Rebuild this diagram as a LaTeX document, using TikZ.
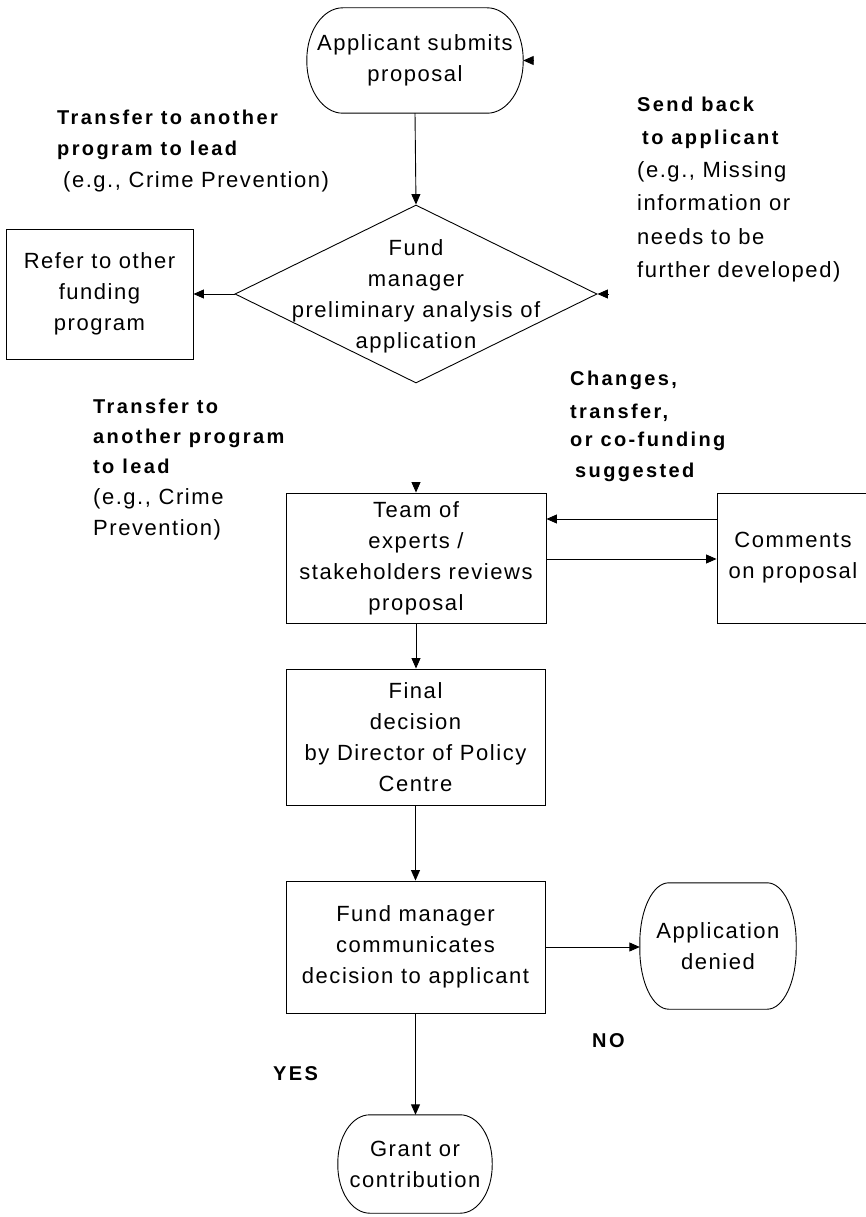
\documentclass[tikz,border=0pt]{standalone}
\usepackage{fontspec}
\setmainfont{Liberation Sans}[LetterSpace=7]
\newfontfamily\lblfont{Liberation Sans}[LetterSpace=12]
\usetikzlibrary{shapes.geometric,arrows.meta,calc}
\newcommand\bodyfs{\fontsize{22}{31}\selectfont}
\newcommand\lblfs{\lblfont\bfseries\fontsize{20}{30}\selectfont}
\newcommand\softshape[3]{%
  \draw[line width=0.9pt] ($(#1.north west)+(#2,0)$) -- ($(#1.north east)+(-#2,0)$)
   .. controls +(0.552*#2,0) and +(0,-0.552*#3) .. ($(#1.north east)+(0,#3)$)
   -- ($(#1.south east)+(0,-#3)$)
   .. controls +(0,0.552*#3) and +(0.552*#2,0) .. ($(#1.south east)+(-#2,0)$)
   -- ($(#1.south west)+(#2,0)$)
   .. controls +(-0.552*#2,0) and +(0,0.552*#3) .. ($(#1.south west)+(0,-#3)$)
   -- ($(#1.north west)+(0,#3)$)
   .. controls +(0,-0.552*#3) and +(-0.552*#2,0) .. ($(#1.north west)+(#2,0)$) -- cycle;}
\begin{document}
\begin{tikzpicture}[x=1pt,y=-1pt,
  box/.style={draw, line width=0.9pt, align=center, inner sep=0pt, font=\bodyfs},
  soft/.style={align=center, inner sep=0pt, font=\bodyfs},
  arr/.style={-{Triangle[length=10.5pt,width=9pt]}, line width=0.9pt},
  lblb/.style={anchor=base west, inner sep=0pt, font=\lblfs},
  lblr/.style={anchor=base west, inner sep=0pt, font=\bodyfs}]
\useasboundingbox (0,0) rectangle (866,1217);

% nodes
\node[soft, minimum width=216pt, minimum height=105pt] (app) at (415,60.5) {Applicant submits\\proposal};
\softshape{app}{36}{52}
\node[diamond, draw, line width=0.9pt, minimum width=362pt, minimum height=178pt, inner sep=0pt] (dia) at (416,294) {};
\node[soft] (diatext) at (416,296) {Fund\\manager\\preliminary analysis of\\application};
\node[box, minimum width=187pt, minimum height=130pt] (ref) at (99.5,294) {Refer to other\\funding\\program};
\node[box, minimum width=260pt, minimum height=130pt] (team) at (416,558) {Team of\\experts /\\stakeholders reviews\\proposal};
\node[box, minimum width=152pt, minimum height=130pt] (com) at (793,558) {Comments\\on proposal};
\node[box, minimum width=259pt, minimum height=136pt] (fin) at (415.5,737) {Final\\decision\\by Director of Policy\\Centre};
\node[box, minimum width=259pt, minimum height=132pt] (comm) at (415.5,947) {Fund manager\\communicates\\decision to applicant};
\node[soft, minimum width=156pt, minimum height=126pt] (den) at (718,946) {Application\\denied};
\softshape{den}{29}{60}
\node[soft, minimum width=154pt, minimum height=98pt] (grant) at (415,1164) {Grant or\\contribution};
\softshape{grant}{32}{48}

% dangling arrowheads
\coordinate (appin) at ($(app.east)+(10.5,0)$);
\coordinate (diain) at ($(dia.east)+(10.5,0)$);
\coordinate (teamin) at ($(team.north)+(0,-10.5)$);
\draw[arr] (appin) -- (app.east);
\draw[arr] (diain) -- (dia.east);
\draw[arr] (teamin) -- (team.north);

% connectors
\draw[arr] (app.south) -- (dia.north);
\draw[arr] (dia.west) -- (dia.west -| ref.east);
\draw[arr] ([yshift=39pt]com.west) -- ([yshift=39pt]team.east);
\draw[arr] ([yshift=-1pt]team.east) -- ([yshift=-1pt]com.west);
\draw[arr] (team.south) -- (team.south |- fin.north);
\draw[arr] (fin.south) -- (fin.south |- comm.north);
\draw[arr] (comm.east) -- (comm.east -| den.west);
\draw[arr] (comm.south) -- (comm.south |- grant.north);

% labels
\node[lblb] (l1a) at (57,125) {Transfer to another};
\node[lblb] (l1b) at (57,156) {program to lead};
\node[lblr] (l1c) at (63,187) {(e.g., Crime Prevention)};

\node[lblb] (l3a) at (637,112) {Send back};
\node[lblb] (l3b) at (642,145) {to applicant};
\node[lblr] (l3c) at (637,178) {(e.g., Missing};
\node[lblr] (l3d) at (637,211) {information or};
\node[lblr] (l3e) at (637,244) {needs to be};
\node[lblr] (l3f) at (637,277) {further developed)};

\node[lblb] (l2a) at (93,413) {Transfer to};
\node[lblb] (l2b) at (93,443) {another program};
\node[lblb] (l2c) at (93,473) {to lead};
\node[lblr] (l2d) at (93,504) {(e.g., Crime};
\node[lblr] (l2e) at (93,535) {Prevention)};

\node[lblb] (l4a) at (570,385) {Changes,};
\node[lblb] (l4b) at (570,418) {transfer,};
\node[lblb] (l4c) at (570,446) {or co-funding};
\node[lblb] (l4d) at (575,477) {suggested};

\node[lblb] (yes) at (273,1080) {YES};
\node[lblb] (no) at (592,1047) {NO};
\end{tikzpicture}
\end{document}
